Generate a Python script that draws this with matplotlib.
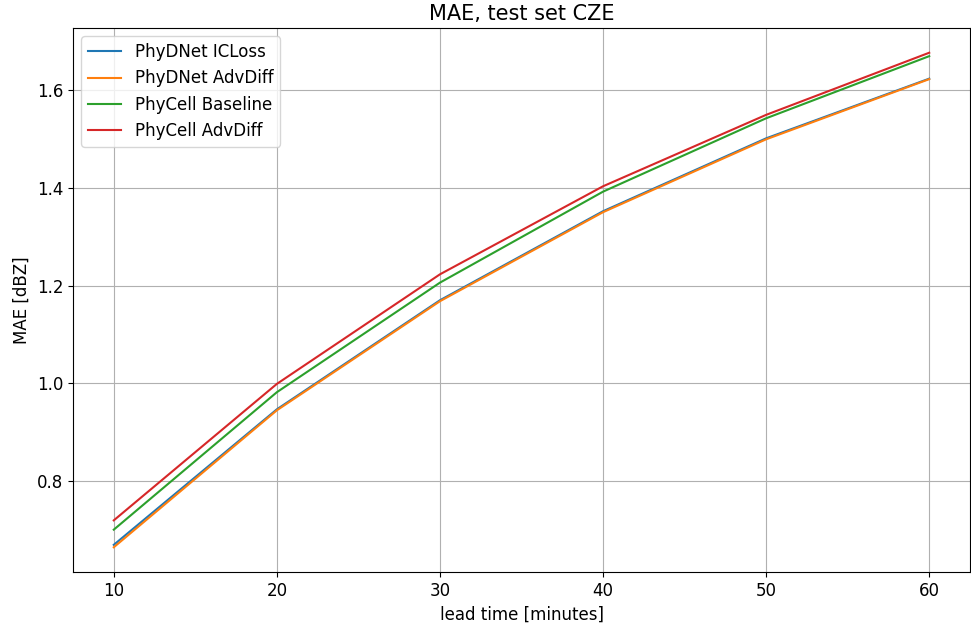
import matplotlib
matplotlib.use("Agg")
import matplotlib.pyplot as plt

# lead times [minutes]
lead_time = [10, 20, 30, 40, 50, 60]

# MAE [dBZ] per model
phydnet_icloss = [0.670, 0.947, 1.170, 1.352, 1.501, 1.623]
phydnet_advdiff = [0.665, 0.945, 1.168, 1.350, 1.499, 1.622]
phycell_baseline = [0.701, 0.982, 1.206, 1.392, 1.542, 1.669]
phycell_advdiff = [0.720, 0.999, 1.223, 1.403, 1.549, 1.676]

labels = ["PhyDNet ICLoss", "PhyDNet AdvDiff", "PhyCell Baseline", "PhyCell AdvDiff"]

plt.rcParams["font.size"] = 12

fig, ax = plt.subplots(figsize=(9.71, 6.26), dpi=100)
fig.subplots_adjust(left=73 / 971, right=970 / 971, top=1 - 28 / 626, bottom=1 - 572 / 626)

for series, label in zip(
    [phydnet_icloss, phydnet_advdiff, phycell_baseline, phycell_advdiff], labels
):
    ax.plot(lead_time, series, linewidth=1.5, label=label)

ax.set_title("MAE, test set CZE", fontsize=15)
ax.set_xlabel("lead time [minutes]")
ax.set_ylabel("MAE [dBZ]")
ax.grid(True)
ax.legend(loc="upper left")

fig.savefig("out.png", dpi=100)
